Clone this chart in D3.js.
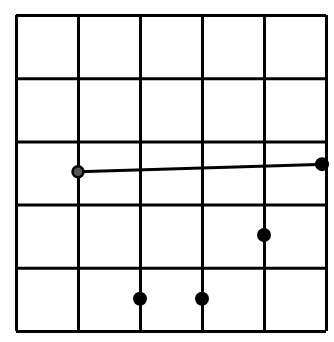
<!DOCTYPE html>
<html>
<head>
<meta charset="utf-8">
<script src="https://cdn.jsdelivr.net/npm/d3@7"></script>
<style>
  body { margin: 0; background: #fff; }
  svg { display: block; }
  .grid path { display: none; }
  .grid line { stroke: #000; stroke-width: 3; }
  .grid text { display: none; }
</style>
</head>
<body>
<svg></svg>
<script>
let xTicks = [0, 1, 2, 3, 4, 5]
let yTicks = [0, 1, 2, 3, 4, 5]

// the joined line, open dot on the left, filled on the right
let lineX = [1, 5]
let lineY = [2.52, 2.64]

// lone filled dots
let dotX = [2, 3, 4]
let dotY = [0.51, 0.51, 1.52]

let width = 334
let height = 342
let padLeft = 16, padRight = 326, padTop = 15, padBottom = 331

let svg = d3.select('svg')
    .attr('width', width)
    .attr('height', height)

let xScale = d3.scaleLinear().domain([0, 5]).range([padLeft, padRight])
let yScale = d3.scaleLinear().domain([0, 5]).range([padBottom, padTop])

// grid lines come from the axes with full-length ticks
svg.append('g')
    .attr('class', 'grid')
    .attr('transform', `translate(0, ${padBottom})`)
    .call(d3.axisBottom(xScale).tickValues(xTicks).tickSize(-(padBottom - padTop)).tickFormat(''))

svg.append('g')
    .attr('class', 'grid')
    .attr('transform', `translate(${padLeft}, 0)`)
    .call(d3.axisLeft(yScale).tickValues(yTicks).tickSize(-(padRight - padLeft)).tickFormat(''))

let pts = lineX.map((x, i) => [x, lineY[i]])

svg.append('path')
    .datum(pts)
    .attr('fill', 'none')
    .attr('stroke', '#000')
    .attr('stroke-width', 3)
    .attr('d', d3.line().x(d => xScale(d[0])).y(d => yScale(d[1])))

// open start point
svg.append('circle')
    .attr('cx', xScale(pts[0][0]))
    .attr('cy', yScale(pts[0][1]))
    .attr('r', 5.5)
    .attr('fill', '#555')
    .attr('stroke', '#000')
    .attr('stroke-width', 2.5)

// filled end point
svg.append('circle')
    .attr('cx', xScale(pts[1][0]) - 4)
    .attr('cy', yScale(pts[1][1]))
    .attr('r', 7)
    .attr('fill', '#000')

svg.selectAll('.dot')
    .data(dotX)
    .enter()
    .append('circle')
    .attr('class', 'dot')
    .attr('cx', (d) => xScale(d))
    .attr('cy', (d, i) => yScale(dotY[i]))
    .attr('r', 7)
    .attr('fill', '#000')
</script>
</body>
</html>
